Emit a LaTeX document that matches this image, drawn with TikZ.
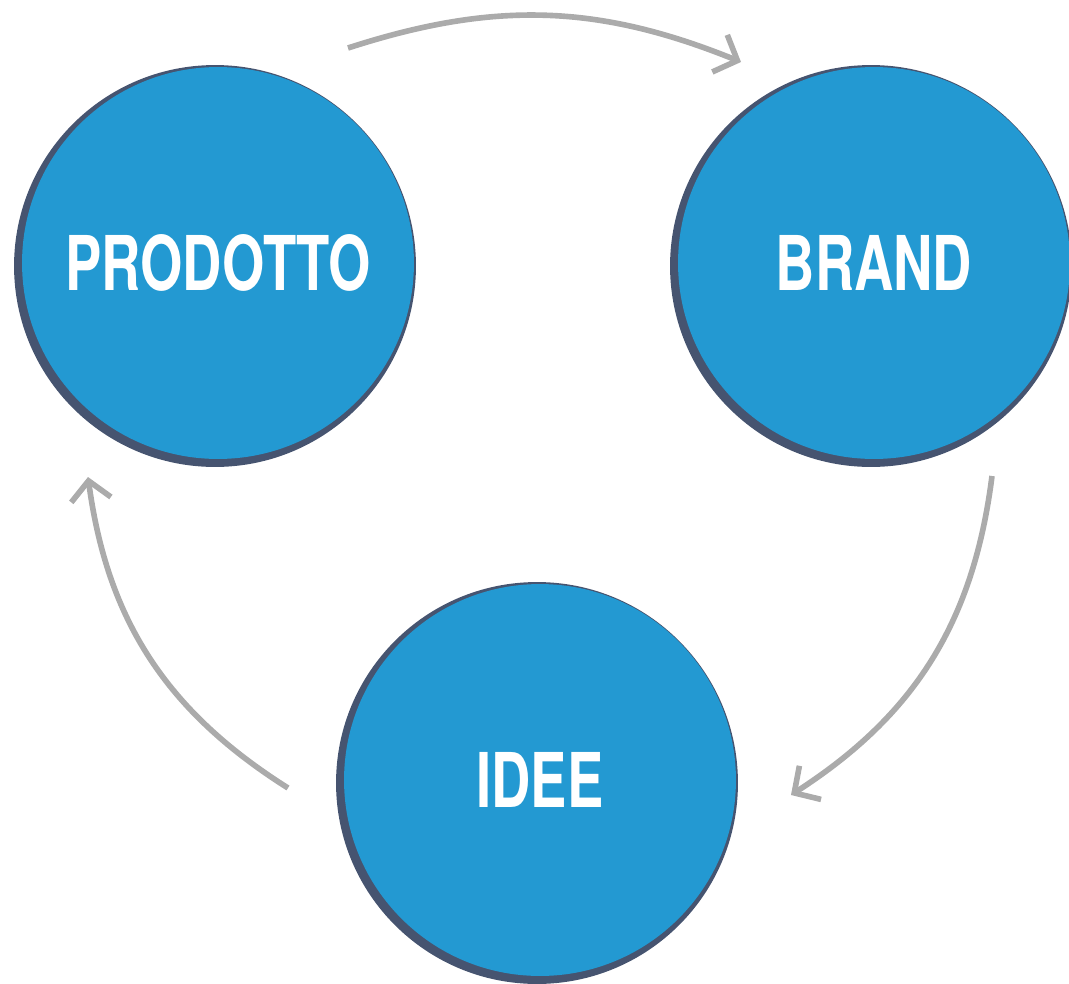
\documentclass[tikz,border=0pt]{standalone}
\usepackage{fontspec}
\setsansfont{TeX Gyre Heros}
\usetikzlibrary{arrows.meta}
\definecolor{cblue}{HTML}{2399D2}
\definecolor{cdark}{HTML}{465470}
\definecolor{cgray}{HTML}{ABABAB}
\begin{document}
\begin{tikzpicture}[x=0.02cm,y=-0.02cm,
  shadowc/.style={circle,fill=cdark,minimum size=8.04cm,inner sep=0pt},
  bluec/.style={circle,fill=cblue,minimum size=7.84cm,inner sep=0pt,text=white,
     font=\sffamily\bfseries\fontsize{43}{43}\selectfont},
  cyc/.style={draw=cgray,line width=3.2pt,-{Straight Barb[length=0.38cm,width=0.8cm,line width=3.2pt]}}]
\useasboundingbox (0,0) rectangle (1069,984);
\node[shadowc] (ps) at (215,266) {};
\node[bluec] (p) at (218,263) {\scalebox{0.72}[1]{PRODOTTO}};
\node[shadowc] (bs) at (871,266) {};
\node[bluec] (b) at (874,263) {\scalebox{0.72}[1]{BRAND}};
\node[shadowc] (is) at (537,783) {};
\node[bluec] (i) at (540,780) {\scalebox{0.72}[1]{IDEE}};
\coordinate (t1) at (348,48);
\coordinate (t2) at (741,62);
\coordinate (r1) at (992,476);
\coordinate (r2) at (791,795);
\coordinate (l1) at (288,788);
\coordinate (l2) at (88,477);
\draw[cyc] (t1) to[bend left=20] (t2);
\draw[cyc] (r1) to[bend left=25] (r2);
\draw[cyc] (l1) to[bend left=25] (l2);
\end{tikzpicture}
\end{document}
